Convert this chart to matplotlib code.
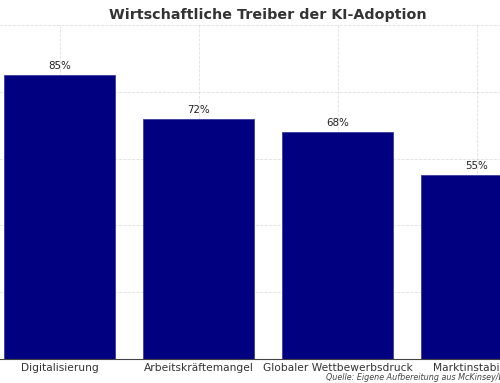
import matplotlib
matplotlib.use("Agg")
import matplotlib.pyplot as plt

categories = ["Digitalisierung", "Arbeitskräftemangel", "Globaler Wettbewerbsdruck", "Marktinstabilität"]
values = [85, 72, 68, 55]
title = "Wirtschaftliche Treiber der KI-Adoption"
source = "Quelle: Eigene Aufbereitung aus McKinsey/Bitkom-Daten"

fig = plt.figure(figsize=(5.0, 3.83), dpi=100)
W, H = 500, 383
left_px, right_px = -9.5, 546
top_px, bottom_px = 25, 359
ax = fig.add_axes([left_px / W, 1 - bottom_px / H, (right_px - left_px) / W, (bottom_px - top_px) / H])

x = range(len(categories))
bars = ax.bar(x, values, width=0.8, color="#000080", edgecolor="#3c3ca0", linewidth=0.6, zorder=2)
for b, v in zip(bars, values):
    ax.text(b.get_x() + b.get_width() / 2, v + 1.2, f"{v}%", ha="center", va="bottom",
            fontsize=7.4, color="#222222", zorder=3)

ax.set_xlim(-0.5, 3.5)
ax.set_ylim(0, 100)
ax.set_xticks(list(x))
ax.set_xticklabels(categories, fontsize=7.7, color="#333333")
ax.set_yticks([0, 20, 40, 60, 80, 100])
ax.tick_params(axis="y", left=False, labelleft=False)
ax.tick_params(axis="x", length=0, pad=3)
ax.grid(True, linestyle="--", linewidth=0.6, color="#999999", alpha=0.3, zorder=3)
for s in ["top", "right", "left"]:
    ax.spines[s].set_visible(False)
ax.spines["bottom"].set_color("#444444")
ax.spines["bottom"].set_linewidth(0.8)
ax.spines["bottom"].set_zorder(4)

fig.text(268 / W, 1 - 15 / H, title, ha="center", va="center", fontsize=10.3,
         fontweight="bold", color="#333333")
fig.text(326 / W, 1 - 377 / H, source, ha="left", va="center", fontsize=5.8,
         style="italic", color="#444444")

fig.savefig("out.png", dpi=100)
